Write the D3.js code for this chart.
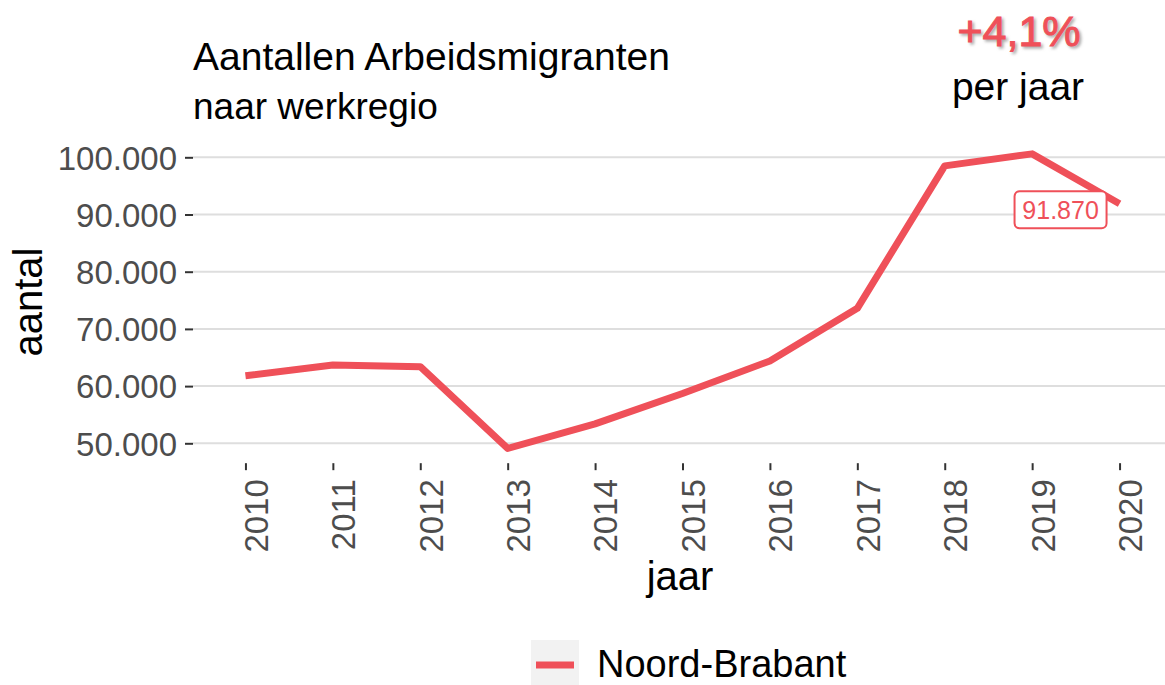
<!DOCTYPE html>
<html lang="nl">
<head>
    <meta charset="UTF-8">
    <title>Aantallen Arbeidsmigranten</title>
    <script src="https://cdnjs.cloudflare.com/ajax/libs/d3/7.8.5/d3.min.js"></script>
    <style>
        * { margin: 0; padding: 0; }
        body { background: #fff; width: 1165px; height: 685px; overflow: hidden; }
        text { font-family: "Liberation Sans", Arial, sans-serif; }
        .grid line { stroke: #dedede; stroke-width: 2; }
        .tick-label { fill: #4d4d4d; font-size: 33px; }
    </style>
</head>
<body>
    <div id="chart"></div>

    <script>
        // data
        const years = ['2010', '2011', '2012', '2013', '2014', '2015', '2016', '2017', '2018', '2019', '2020'];
        const aantal = [61800, 63700, 63400, 49100, 53400, 58700, 64400, 73600, 98500, 100600, 91870];
        const yTicks = [50000, 60000, 70000, 80000, 90000, 100000];
        const regio = 'Noord-Brabant';
        const groei = '+4,1%';

        const width = 1165, height = 685;
        const red = '#ef5059';

        const svg = d3.select('#chart').append('svg')
            .attr('width', width)
            .attr('height', height);

        const defs = svg.append('defs');
        defs.append('filter')
            .attr('id', 'shadow')
            .attr('x', '-10%').attr('y', '-10%')
            .attr('width', '120%').attr('height', '140%')
            .append('feGaussianBlur')
            .attr('stdDeviation', 1.5);

        // scales (ggplot style expansion)
        const x = d3.scalePoint()
            .domain(years)
            .range([193, 1172])
            .padding(0.6);

        const yMin = d3.min(aantal), yMax = d3.max(aantal);
        const pad = (yMax - yMin) * 0.05;
        const pxPerUnit = 286 / 50000;
        const y = d3.scaleLinear()
            .domain([yMin - pad, yMax + pad])
            .range([443.3 + (50000 - (yMin - pad)) * pxPerUnit, 157.3 - ((yMax + pad) - 100000) * pxPerUnit]);

        const fmt = d3.formatLocale({ decimal: ',', thousands: '.', grouping: [3], currency: ['€', ''] }).format(',d');

        // grid lines
        svg.append('g').attr('class', 'grid')
            .selectAll('line')
            .data(yTicks)
            .join('line')
            .attr('x1', 193).attr('x2', width)
            .attr('y1', d => y(d)).attr('y2', d => y(d));

        // y axis
        const yAxis = svg.append('g')
            .attr('transform', 'translate(193,0)')
            .call(d3.axisLeft(y).tickValues(yTicks).tickSize(8).tickPadding(8).tickFormat(fmt));
        yAxis.select('.domain').remove();
        yAxis.selectAll('.tick line').attr('stroke', '#333').attr('stroke-width', 2);
        yAxis.selectAll('.tick text')
            .attr('class', 'tick-label')
            .attr('font-family', null).attr('font-size', null)
            .attr('dy', '0.36em');

        // x axis
        const xAxis = svg.append('g')
            .attr('transform', `translate(0,${y.range()[0]})`)
            .call(d3.axisBottom(x).tickSize(7).tickPadding(0));
        xAxis.select('.domain').remove();
        xAxis.selectAll('.tick line').attr('stroke', '#333').attr('stroke-width', 2);
        xAxis.selectAll('.tick text')
            .attr('class', 'tick-label')
            .attr('font-family', null).attr('font-size', null)
            .attr('text-anchor', 'end')
            .attr('y', null).attr('dy', null)
            .attr('transform', 'translate(10,16) rotate(-90)')
            .attr('x', 0).attr('dy', '0.36em');

        // line
        const line = d3.line()
            .x((d, i) => x(years[i]))
            .y(d => y(d));

        svg.append('path')
            .datum(aantal)
            .attr('fill', 'none')
            .attr('stroke', red)
            .attr('stroke-width', 7)
            .attr('stroke-linejoin', 'round')
            .attr('d', line);

        // label for the last value
        const last = aantal.length - 1;
        const lx = x(years[last]) - 59, ly = y(aantal[last]) + 6;
        const lab = svg.append('g').attr('transform', `translate(${lx},${ly})`);
        lab.append('rect')
            .attr('x', -46).attr('y', -18.5)
            .attr('width', 92).attr('height', 37)
            .attr('rx', 5)
            .attr('fill', '#fff')
            .attr('stroke', red)
            .attr('stroke-width', 2);
        lab.append('text')
            .attr('text-anchor', 'middle')
            .attr('dy', '0.36em')
            .attr('font-size', 25)
            .attr('fill', red)
            .text(fmt(aantal[last]));

        // titles
        svg.append('text')
            .attr('x', 193).attr('y', 70)
            .attr('font-size', 39)
            .text('Aantallen Arbeidsmigranten');
        svg.append('text')
            .attr('x', 193).attr('y', 119)
            .attr('font-size', 37)
            .text('naar werkregio');

        // growth annotation (shadow copy underneath)
        svg.append('text')
            .attr('x', 1021).attr('y', 48)
            .attr('text-anchor', 'middle')
            .attr('font-size', 43)
            .attr('fill', '#aaa')
            .attr('stroke', '#aaa')
            .attr('stroke-width', 1)
            .attr('filter', 'url(#shadow)')
            .text(groei);
        svg.append('text')
            .attr('x', 1019).attr('y', 46)
            .attr('text-anchor', 'middle')
            .attr('font-size', 43)
            .attr('fill', red)
            .attr('stroke', red)
            .attr('stroke-width', 1)
            .text(groei);
        svg.append('text')
            .attr('x', 1018).attr('y', 100)
            .attr('text-anchor', 'middle')
            .attr('font-size', 39)
            .text('per jaar');

        // axis titles
        svg.append('text')
            .attr('transform', 'translate(42,302) rotate(-90)')
            .attr('text-anchor', 'middle')
            .attr('font-size', 40)
            .text('aantal');
        svg.append('text')
            .attr('x', 680).attr('y', 590)
            .attr('text-anchor', 'middle')
            .attr('font-size', 40)
            .text('jaar');

        // legend
        const leg = svg.append('g').attr('transform', 'translate(531,640)');
        leg.append('rect')
            .attr('width', 48).attr('height', 45)
            .attr('fill', '#f2f2f2');
        leg.append('line')
            .attr('x1', 5).attr('x2', 43)
            .attr('y1', 25).attr('y2', 25)
            .attr('stroke', red)
            .attr('stroke-width', 7);
        leg.append('text')
            .attr('x', 66).attr('y', 37)
            .attr('font-size', 38)
            .text(regio);
    </script>
</body>
</html>
